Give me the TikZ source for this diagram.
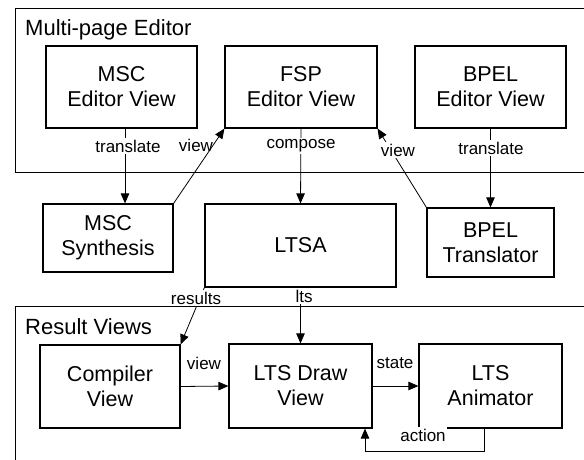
\documentclass[tikz,border=0pt]{standalone}
\usepackage{fontspec}
\setmainfont{Liberation Sans}
\usetikzlibrary{arrows.meta,calc}
\tikzset{
  frame/.style={draw, line width=1.3pt, anchor=north west, inner sep=0pt},
  box/.style={draw, line width=1.2pt, align=center, inner sep=0pt,
    font=\fontsize{21.5}{25}\selectfont},
  arr/.style={line width=0.8pt, -{Triangle[length=10pt,width=8.5pt]}},
  lbl/.style={font=\fontsize{17}{20}\selectfont, inner sep=1.5pt},
  wlbl/.style={lbl, fill=white},
  title/.style={font=\fontsize{22}{26}\selectfont, anchor=west, inner sep=0pt}
}
\begin{document}
\begin{tikzpicture}[x=1pt,y=-1pt]
\useasboundingbox (0,0) rectangle (584,460);
\clip (0,0) rectangle (584,460);
\fill[white] (0,0) rectangle (584,460);

% containers (open to the right and bottom)
\node[frame, minimum width=600pt, minimum height=164pt] (editor) at (15,8) {};
\node[frame, minimum width=600pt, minimum height=180pt] (results) at (15,306) {};
\node[title] (editortitle) at (25,30) {Multi-page Editor};
\node[title] (resultstitle) at (25,327) {Result Views};

% editor views
\node[box, minimum width=151pt, minimum height=82pt] (msced) at (121.5,87) {MSC\\Editor View};
\node[box, minimum width=152pt, minimum height=82pt] (fsped) at (301,87) {FSP\\Editor View};
\node[box, minimum width=151pt, minimum height=82pt] (bpeled) at (490.5,87) {BPEL\\Editor View};

% tools
\node[box, minimum width=130pt, minimum height=68pt] (mscsyn) at (108,238) {MSC\\Synthesis};
\node[box, minimum width=191pt, minimum height=83pt] (ltsa) at (300.5,245.5) {LTSA};
\node[box, minimum width=127pt, minimum height=69pt] (bpeltr) at (490.5,242.5) {BPEL\\Translator};

% result views
\node[box, minimum width=140pt, minimum height=83pt] (compv) at (110,386.5) {Compiler\\View};
\node[box, minimum width=143pt, minimum height=84pt] (ltsdraw) at (300.5,386) {LTS Draw\\View};
\node[box, minimum width=143pt, minimum height=84pt] (anim) at (490.5,386) {LTS\\Animator};

\coordinate (actcorner) at (484,451);

% connectors
\draw[arr] (msced.south -| 125,0) -- (mscsyn.north -| 125,0);
\draw[arr] (mscsyn.north east) -- (fsped.south west);
\draw[arr] (fsped.south) -- (ltsa.north);
\draw[arr] (bpeltr.north west) -- (fsped.south east);
\draw[arr] (bpeled.south) -- (bpeltr.north);
\draw[arr] (ltsa.south) -- (ltsdraw.north);
\draw[arr] (ltsa.south west) -- (compv.north east);
\draw[arr] (compv.east) -- (ltsdraw.west);
\draw[arr] (ltsdraw.east) -- (anim.west);
\draw[arr] (anim.south -| actcorner) -- (actcorner) -| (ltsdraw.south -| 365,0);

% connector labels
\node[wlbl] (l1) at (128,146) {translate};
\node[lbl] (l2) at (196,145) {view};
\node[wlbl] (l3) at (301,146) {compose};
\node[wlbl] (l4) at (398,150) {view};
\node[wlbl] (l5) at (491,148) {translate};
\node[wlbl] (l6) at (196,298) {results};
\node[wlbl] (l7) at (304,296) {lts};
\node[lbl] (l8) at (204,363) {view};
\node[lbl] (l9) at (395,363) {state};
\node[wlbl] (l10) at (423,435) {action};
\end{tikzpicture}
\end{document}
